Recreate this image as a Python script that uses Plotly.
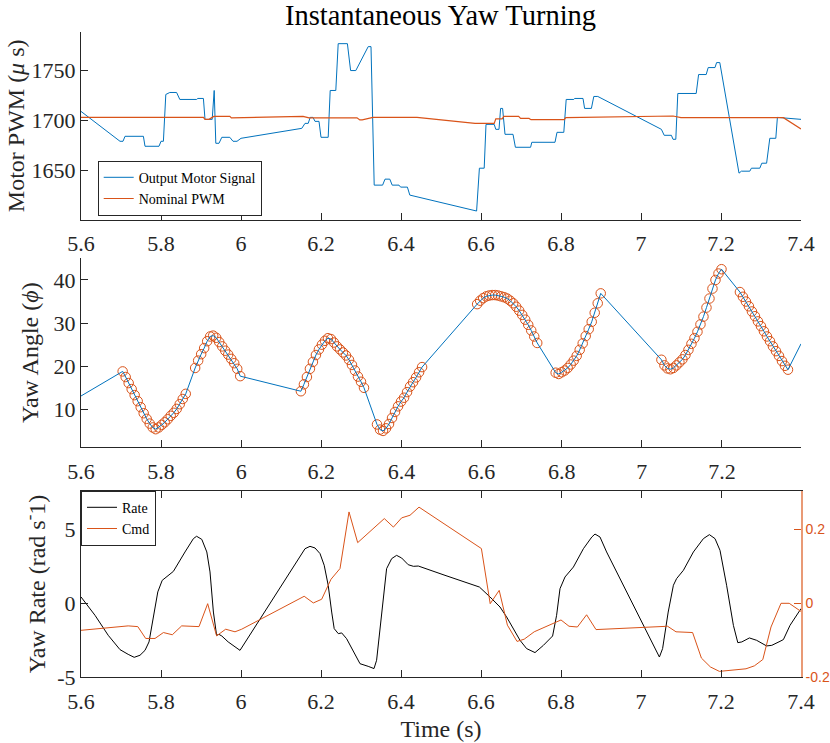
import plotly.graph_objects as go

# ---------------- top panel: motor PWM ----------------
pwm_t = [5.6, 5.6975, 5.705, 5.71, 5.756, 5.76, 5.795, 5.80, 5.806, 5.812, 5.822, 5.839, 5.847, 5.889,
         5.892, 5.906, 5.91, 5.928, 5.933, 5.937, 5.945, 5.952, 5.972, 5.98, 5.99, 6.0, 6.152, 6.16,
         6.168, 6.173, 6.18, 6.185, 6.195, 6.2, 6.218, 6.223, 6.237, 6.243, 6.266, 6.274, 6.287, 6.318,
         6.325, 6.333, 6.354, 6.36, 6.372, 6.378, 6.395, 6.399, 6.416, 6.422, 6.589, 6.596, 6.608,
         6.6125, 6.633, 6.637, 6.645, 6.649, 6.654, 6.66, 6.68, 6.686, 6.724, 6.727, 6.785, 6.79, 6.807,
         6.813, 6.832, 6.834, 6.855, 6.859, 6.876, 6.882, 6.892, 7.051, 7.058, 7.076, 7.08, 7.087,
         7.092, 7.138, 7.144, 7.163, 7.168, 7.185, 7.189, 7.197, 7.245, 7.251, 7.272, 7.276, 7.297,
         7.302, 7.314, 7.322, 7.337, 7.341, 7.4]
pwm_out = [1709, 1679, 1679, 1684, 1684, 1674, 1674, 1679, 1679, 1726, 1728, 1728, 1721, 1721,
           1722, 1722, 1701, 1701, 1730, 1677, 1677, 1683, 1683, 1679, 1679, 1682, 1692, 1697,
           1697, 1703, 1703, 1699, 1699, 1683, 1683, 1730, 1730, 1777, 1777, 1750, 1750, 1774,
           1774, 1635, 1635, 1641, 1641, 1635, 1635, 1633, 1633, 1625, 1609, 1652, 1652,
           1696, 1696, 1691, 1691, 1712, 1712, 1686, 1686, 1673, 1673, 1678, 1678, 1688, 1688,
           1721, 1721, 1722, 1722, 1712, 1712, 1724, 1724, 1691, 1685, 1685, 1681, 1681,
           1727, 1727, 1746, 1746, 1753, 1753, 1758, 1758, 1647, 1649, 1649, 1652, 1652,
           1657, 1657, 1682, 1682, 1703, 1701]
nom_t = [5.6, 5.906, 5.91, 5.92, 5.932, 5.972, 5.976, 6.155, 6.17, 6.29, 6.297, 6.303, 6.33, 6.44,
         6.585, 6.633, 6.637, 6.653, 6.657, 6.694, 6.699, 6.72, 6.725, 6.808, 6.812, 7.08, 7.1,
         7.356, 7.4]
nom_pwm = [1703, 1703, 1701, 1701, 1704, 1704, 1702.5, 1704, 1702.5, 1702.5, 1700.5, 1700.5, 1703,
           1703, 1697, 1697, 1701.5, 1701.5, 1704, 1704, 1702, 1702, 1700.7, 1700.7, 1702.7,
           1704.4, 1702.7, 1702.7, 1691.4]

# ---------------- middle panel: yaw angle ----------------
YAW_DT = 0.0075  # sample spacing inside the marked segments
yaw_seg_start = [5.704, 5.885, 6.149, 6.339, 6.589, 6.785, 7.049, 7.245]
yaw_seg1 = [18.8, 17.5, 16.1, 14.7, 13.3, 11.9, 10.5, 9.1, 7.8, 6.7, 5.8, 5.4, 5.8, 6.4, 7.0, 7.7,
            8.5, 9.2, 10.1, 11.2, 12.4, 13.6]
yaw_seg2 = [19.6, 21.3, 22.8, 24.2, 25.8, 26.9, 27.1, 26.6, 25.6, 24.6, 23.6, 22.7, 21.7, 20.7,
            19.4, 17.7]
yaw_seg3 = [14.2, 15.8, 17.5, 19.4, 21.0, 22.6, 23.9, 25.0, 25.9, 26.5, 26.3, 25.5, 24.6, 23.9,
            23.2, 22.5, 21.5, 20.3, 19.0, 17.6, 16.4, 15.0]
yaw_seg4 = [6.5, 5.3, 5.0, 5.6, 6.6, 8.0, 9.4, 10.7, 11.8, 12.7, 14.0, 15.3, 16.3, 17.4, 18.6, 19.8]
yaw_seg5 = [34.4, 35.2, 35.8, 36.2, 36.4, 36.5, 36.5, 36.4, 36.2, 36.0, 35.7, 35.2, 34.6, 33.8,
            32.9, 31.9, 30.8, 29.6, 28.3, 26.9, 25.4]
yaw_seg6 = [18.5, 18.2, 18.6, 19.0, 19.6, 20.4, 21.3, 22.4, 23.8, 25.3, 27.0, 28.6, 30.3, 32.4,
            34.6, 36.9]
yaw_seg7 = [21.5, 20.2, 19.5, 19.3, 19.6, 20.2, 20.9, 21.6, 22.6, 23.8, 25.2, 26.5, 28.0, 29.7,
            31.5, 33.6, 35.7, 38.0, 40.0, 41.5, 42.5]
yaw_seg8 = [37.2, 36.1, 35.0, 33.9, 32.7, 31.6, 30.4, 29.3, 28.1, 26.9, 25.8, 24.6, 23.5, 22.4,
            21.2, 20.1, 19.2]
yaw_edge_t = [5.6, 7.3975]
yaw_edge_v = [13.1, 25.2]

# ---------------- bottom panel: yaw rate / command ----------------
rate_t = [5.6, 5.635, 5.668, 5.6975, 5.718, 5.733, 5.7475, 5.76, 5.77, 5.781, 5.792, 5.803, 5.831,
          5.86, 5.881, 5.889, 5.902, 5.9145, 5.9225, 5.931, 5.939, 5.945, 5.952, 5.968, 5.9975,
          6.16, 6.1725, 6.185, 6.1975, 6.208, 6.218, 6.2267, 6.233, 6.2433, 6.2517, 6.264, 6.281,
          6.2975, 6.318, 6.3325, 6.339, 6.3475, 6.356, 6.364, 6.3767, 6.389, 6.4017, 6.418, 6.431,
          6.4433, 6.51, 6.585, 6.596, 6.6225, 6.6475, 6.664, 6.681, 6.6975, 6.714, 6.735, 6.756,
          6.779, 6.789, 6.7975, 6.81, 6.831, 6.856, 6.877, 6.885, 6.8975, 6.914, 7.046, 7.054,
          7.068, 7.081, 7.089, 7.106, 7.131, 7.156, 7.171, 7.185, 7.1975, 7.214, 7.231, 7.242,
          7.252, 7.271, 7.289, 7.314, 7.327, 7.3475, 7.356, 7.3725, 7.4]
rate = [0.43, -0.81, -2.16, -3.13, -3.45, -3.65, -3.51, -3.18, -2.61, -0.81, 0.77, 1.55, 2.16,
        3.47, 4.37, 4.53, 4.32, 3.47, 2.12, -0.59, -2.16, -2.10, -2.21, -2.61, -3.18,
        3.69, 3.85, 3.74, 3.36, 2.57, 1.22, -0.59, -1.71, -2.05, -2.00, -2.39, -3.29,
        -4.08, -4.26, -4.41, -3.85, -1.71, 0.54, 2.34, 3.02, 3.24, 3.06, 2.61, 2.50,
        2.52, 1.89, 1.17, 1.10, 0.43, -0.25, -0.92, -1.71, -2.50, -3.06, -3.33, -2.84,
        -2.21, -0.81, 0.99, 1.78, 2.45, 3.69, 4.48, 4.68, 4.48, 3.47, -3.63, -3.06,
        -0.59, 1.22, 1.67, 2.23, 3.47, 4.37, 4.64, 4.37, 3.58, 1.22, -1.49, -2.66,
        -2.61, -2.34, -2.50, -2.88, -2.84, -2.57, -2.45, -1.49, -0.36]
cmd_t = [5.6, 5.718, 5.742, 5.7617, 5.785, 5.806, 5.8283, 5.8517, 5.895, 5.9167, 5.939, 5.9617,
         5.985, 6.0017, 6.158, 6.1808, 6.2017, 6.225, 6.2475, 6.27, 6.2917, 6.3583, 6.381, 6.4017,
         6.4225, 6.445, 6.601, 6.623, 6.6455, 6.666, 6.69, 6.708, 6.733, 6.8, 6.82, 6.841, 6.864,
         6.8875, 7.0665, 7.0875, 7.129, 7.151, 7.1735, 7.196, 7.2625, 7.2835, 7.3045, 7.325, 7.35,
         7.3705, 7.4]
cmd = [-0.073, -0.061, -0.063, -0.095, -0.095, -0.079, -0.085, -0.061, -0.063, -0.001, -0.088,
       -0.070, -0.077, -0.070, 0.019, 0.001, 0.011, 0.065, 0.094, 0.247, 0.164, 0.229, 0.206,
       0.231, 0.238, 0.260, 0.148, -0.001, 0.035, -0.059, -0.103, -0.097, -0.077, -0.045,
       -0.062, -0.064, -0.031, -0.071, -0.062, -0.077, -0.079, -0.148, -0.172, -0.184, -0.177,
       -0.169, -0.152, -0.064, 0.0, 0.0, -0.022]

# tick labels
x_ticks = [5.6, 5.8, 6.0, 6.2, 6.4, 6.6, 6.8, 7.0, 7.2, 7.4]
x_labels = ['5.6', '5.8', '6', '6.2', '6.4', '6.6', '6.8', '7', '7.2', '7.4']

BLUE = '#0072BD'
ORANGE = '#D95319'
AX = '#262626'
SERIF = 'Liberation Serif, Times New Roman, serif'

W, H = 830, 743


def fx(px):
    # pixel from the left -> paper x fraction
    return px / W


def fy(px):
    # pixel from the top -> paper y fraction
    return 1 - px / H


# assemble the sampled yaw segments
yaw_segs = [yaw_seg1, yaw_seg2, yaw_seg3, yaw_seg4, yaw_seg5, yaw_seg6, yaw_seg7, yaw_seg8]
mk_t, mk_v = [], []
for t0, vals in zip(yaw_seg_start, yaw_segs):
    mk_t += [round(t0 + i * YAW_DT, 4) for i in range(len(vals))]
    mk_v += vals
yaw_t = [yaw_edge_t[0]] + mk_t + [yaw_edge_t[1]]
yaw_v = [yaw_edge_v[0]] + mk_v + [yaw_edge_v[1]]

fig = go.Figure()

fig.add_trace(go.Scatter(x=pwm_t, y=pwm_out, mode='lines', name='Output Motor Signal',
                         line=dict(color=BLUE, width=1), xaxis='x', yaxis='y', legend='legend'))
fig.add_trace(go.Scatter(x=nom_t, y=nom_pwm, mode='lines', name='Nominal PWM',
                         line=dict(color=ORANGE, width=1.2), xaxis='x', yaxis='y', legend='legend'))

fig.add_trace(go.Scatter(x=mk_t, y=mk_v, mode='markers', showlegend=False,
                         marker=dict(symbol='circle-open', size=9.5, color=ORANGE, line=dict(width=1)),
                         xaxis='x2', yaxis='y2'))
fig.add_trace(go.Scatter(x=yaw_t, y=yaw_v, mode='lines', showlegend=False,
                         line=dict(color=BLUE, width=1), xaxis='x2', yaxis='y2'))

fig.add_trace(go.Scatter(x=rate_t, y=rate, mode='lines', name='Rate',
                         line=dict(color='black', width=1), xaxis='x3', yaxis='y3', legend='legend2'))
fig.add_trace(go.Scatter(x=cmd_t, y=cmd, mode='lines', name='Cmd',
                         line=dict(color=ORANGE, width=1), xaxis='x3', yaxis='y4', legend='legend2'))

XD = [fx(81), fx(801)]
base_x = dict(domain=XD, tickvals=x_ticks, ticktext=x_labels, ticks='inside', ticklen=7,
              tickcolor=AX, showline=True, linecolor=AX, linewidth=1, showgrid=False,
              zeroline=False, automargin=False, ticklabelstandoff=4,
              tickfont=dict(size=22, color=AX))
base_y = dict(ticks='inside', ticklen=7, tickcolor=AX, showline=True, linecolor=AX, linewidth=1,
              showgrid=False, zeroline=False, automargin=False, tickfont=dict(size=22, color=AX))

fig.update_layout(
    width=W, height=H,
    margin=dict(l=0, r=0, t=0, b=0, autoexpand=False),
    paper_bgcolor='white', plot_bgcolor='white',
    font=dict(family=SERIF, size=22, color=AX),
    title=dict(text='Instantaneous Yaw Turning', x=fx(440.5), xanchor='center',
               y=fy(15), yanchor='middle', font=dict(size=28.5, color='black')),
    xaxis=dict(base_x, anchor='y', range=[5.6, 7.4]),
    yaxis=dict(base_y, anchor='x', domain=[fy(220), fy(31.7)], range=[1600, 1789],
               tickvals=[1650, 1700, 1750],
               title=dict(text='Motor PWM (<i>μ</i> s)', font=dict(size=24), standoff=0)),
    xaxis2=dict(base_x, anchor='y2', range=[5.6, 7.3975]),
    yaxis2=dict(base_y, anchor='x2', domain=[fy(447.3), fy(258)], range=[1.2, 45.1],
                tickvals=[10, 20, 30, 40],
                title=dict(text='Yaw Angle (<i>ϕ</i>)', font=dict(size=24), standoff=8)),
    xaxis3=dict(base_x, anchor='y3', range=[5.6, 7.4], mirror='ticks',
                title=dict(text='Time (s)', font=dict(size=24), standoff=7)),
    yaxis3=dict(base_y, anchor='x3', domain=[fy(677.3), fy(490.7)], range=[-5, 7.61],
                tickvals=[-5, 0, 5], ticktext=['-5', '0', '5'],
                title=dict(text='Yaw Rate (rad s<sup>-</sup>1)', font=dict(size=24), standoff=4)),
    yaxis4=dict(overlaying='y3', side='right', anchor='x3', range=[-0.2, 0.3044],
                tickvals=[-0.2, 0, 0.2], ticktext=['-0.2', '0', '0.2'], ticks='inside', ticklen=7,
                tickcolor=ORANGE, showline=True, linecolor='#E99A75', linewidth=1.5,
                showgrid=False, zeroline=False, automargin=False,
                tickfont=dict(family='Liberation Sans, Arial, sans-serif', size=14, color=ORANGE)),
    legend=dict(x=fx(97.7), y=fy(160.7), xanchor='left', yanchor='top',
                bgcolor='white', bordercolor=AX, borderwidth=1,
                font=dict(family=SERIF, size=14, color='black')),
    legend2=dict(x=fx(81), y=fy(490.7), xanchor='left', yanchor='top',
                 bgcolor='white', bordercolor=AX, borderwidth=1,
                 font=dict(family=SERIF, size=14, color='black')),
)

# drop the page's default body margin so the figure sits at the window's top-left corner
fig.write_html("out.html", config={'displayModeBar': False},
               post_script="document.body.style.margin = '0px';")
